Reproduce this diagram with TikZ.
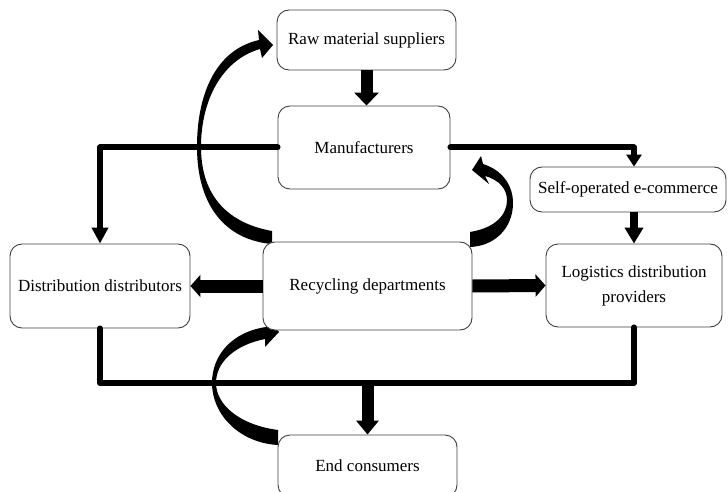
\documentclass[tikz,border=0pt]{standalone}
\usepackage{fontspec}
\setmainfont{Liberation Serif}
\usetikzlibrary{arrows.meta}
\begin{document}
\begin{tikzpicture}[x=1pt,y=-1pt,
  box/.style={draw=black!75, line width=0.9pt, rounded corners=12pt, fill=white,
    font=\fontsize{17}{25}\selectfont, align=center, inner sep=0pt},
  conn/.style={line width=6pt, line cap=round, line join=round,
    -{Triangle[width=16pt,length=16pt]}},
  busline/.style={line width=6pt, line cap=round, line join=round},
  fat/.style={line width=12pt, -{Triangle[width=24pt,length=13pt]}},
  mid/.style={line width=8pt, -{Triangle[width=18pt,length=16pt]}},
  curved/.style={fill=black}]
\useasboundingbox (0,0) rectangle (728,492);

% curved arrows (drawn first)
\fill[curved] (272,231) .. controls (222,222) and (201,190) .. (201,147)
  .. controls (201,100) and (222,60) .. (260,49) -- (262,58) -- (273,45)
  -- (258,30) -- (259,40) .. controls (215,50) and (197,95) .. (197,147)
  .. controls (197,205) and (225,240) .. (272,244) -- cycle;
\fill[curved] (470,232) .. controls (495,228) and (507,215) .. (507,200)
  .. controls (507,190) and (500,180) .. (485,176) -- (489,184) -- (472,170)
  -- (481,156) -- (483,164) .. controls (502,170) and (513,185) .. (513,203)
  .. controls (513,228) and (495,246) .. (470,247) -- cycle;
\fill[curved] (278,430) .. controls (240,425) and (216,405) .. (216,383)
  .. controls (216,362) and (235,345) .. (265,339) -- (265,347) -- (279,332)
  -- (267,320) -- (266,327) .. controls (232,332) and (212,355) .. (212,383)
  .. controls (212,415) and (240,443) .. (278,445) -- cycle;

% boxes
\node[box, minimum width=179pt, minimum height=60pt] (raw) at (366.5,40) {Raw material suppliers};
\node[box, minimum width=172pt, minimum height=83pt] (manuf) at (364,147.5) {Manufacturers};
\node[box, minimum width=196pt, minimum height=45pt] (selfop) at (628,189.5) {Self-operated e-commerce};
\node[box, minimum width=176pt, minimum height=83pt] (logi) at (634,285.5) {Logistics distribution\\providers};
\node[box, minimum width=180pt, minimum height=84pt] (dist) at (100,286) {Distribution distributors};
\node[box, minimum width=209pt, minimum height=88pt] (recyc) at (367.5,286) {Recycling departments};
\node[box, minimum width=179pt, minimum height=62pt] (endc) at (367.5,466) {End consumers};

\coordinate (busmid) at (367.5,383);

% connectors
\draw[fat] (raw.south) -- (manuf.north -| raw.south);
\draw[conn] (manuf.west) -| (dist.north);
\draw[conn, -{Triangle[width=15pt,length=12pt]}] (manuf.east) -| (selfop.north -| logi.north);
\draw[mid] (selfop.south -| logi.north) -- (logi.north);
\draw[line width=13pt, -{Triangle[width=22pt,length=10pt]}] (recyc.west) -- (dist.east);
\draw[line width=13pt, -{Triangle[width=22pt,length=10pt]}] (recyc.east) -- (logi.west);
\draw[busline] (dist.south) |- (busmid) -| (logi.south);
\draw[line width=12pt, -{Triangle[width=22pt,length=14pt]}] (busmid) -- (endc.north);
\end{tikzpicture}
\end{document}
